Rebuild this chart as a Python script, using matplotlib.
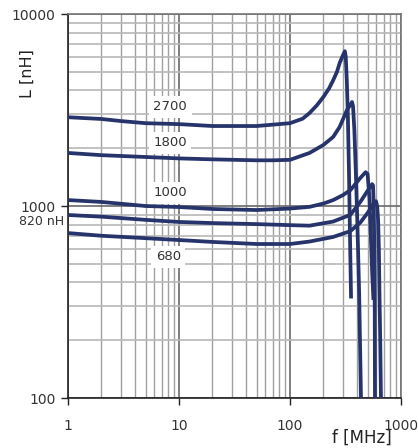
import matplotlib
matplotlib.use("Agg")
import matplotlib.pyplot as plt
from matplotlib.ticker import FixedLocator, NullFormatter, LogLocator

# curves: frequency [MHz], inductance [nH]
f_2700 = [1, 2, 3, 5, 10, 20, 50, 100, 130, 150, 175, 200, 225, 245, 265, 280, 300, 312,
          318, 325, 332, 340, 347, 355]
L_2700 = [2900, 2840, 2770, 2700, 2670, 2610, 2610, 2700, 2850, 3050, 3350, 3700, 4100, 4520, 5000, 5550, 6100, 6400,
          6000, 4500, 3000, 1500, 700, 330]

f_1800 = [1, 2, 5, 10, 20, 50, 70, 100, 150, 200, 245, 280, 325, 362, 370, 380, 392, 405, 420, 436]
L_1800 = [1890, 1840, 1800, 1770, 1750, 1730, 1730, 1740, 1890, 2080, 2290, 2580, 3150, 3480, 3300, 2500, 1500, 800, 350, 100]

f_1000 = [1, 2, 5, 10, 20, 50, 100, 150, 200, 245, 300, 350, 430, 480, 500, 520, 535, 550, 565]
L_1000 = [1074, 1050, 1000, 988, 965, 953, 970, 990, 1030, 1074, 1140, 1210, 1400, 1500, 1470, 1100, 700, 450, 324]

f_820 = [1, 2, 5, 10, 20, 50, 100, 150, 245, 350, 430, 500, 550, 560, 568, 575, 580, 583]
L_820 = [898, 880, 847, 826, 815, 805, 795, 790, 830, 900, 1050, 1200, 1300, 1280, 1000, 600, 300, 100]

f_680 = [1, 2, 5, 10, 20, 50, 100, 150, 245, 350, 430, 500, 560, 595, 610, 622, 632, 640, 650, 660]
L_680 = [723, 700, 680, 665, 650, 634, 634, 653, 690, 740, 820, 920, 1020, 1060, 1000, 850, 600, 350, 200, 100]

curve_labels = ["2700", "1800", "1000", "680"]
label_x = [8.3, 8.3, 8.3, 8.0]
label_y = [3280, 2130, 1170, 543]

x_ticks = [1, 10, 100, 1000]
y_ticks = [100, 1000, 10000]

navy = "#27336b"

fig = plt.figure(figsize=(4.18, 4.48), dpi=100)
ax = fig.add_axes([0.1627, 0.1116, 0.7966, 0.8571])
ax.set_xscale("log")
ax.set_yscale("log")
ax.set_xlim(1, 1000)
ax.set_ylim(100, 10000)

# grid
ax.xaxis.set_minor_locator(LogLocator(base=10, subs=range(2, 10)))
ax.yaxis.set_minor_locator(LogLocator(base=10, subs=range(2, 10)))
ax.xaxis.set_minor_formatter(NullFormatter())
ax.yaxis.set_minor_formatter(NullFormatter())
ax.grid(which="minor", axis="x", color="#a0a0a0", lw=1.0)
ax.grid(which="minor", axis="y", color="#b8b8b8", lw=1.2)
ax.grid(which="major", color="#6a6a6a", lw=1.2)
ax.set_axisbelow(True)

for f, L in [(f_2700, L_2700), (f_1800, L_1800), (f_1000, L_1000), (f_820, L_820), (f_680, L_680)]:
    ax.plot(f, L, color=navy, lw=2.7, solid_capstyle="butt", solid_joinstyle="round", zorder=3)

for t, x, y in zip(curve_labels, label_x, label_y):
    ax.text(x, y, t, fontsize=9.5, color="#333333", ha="center", va="center", zorder=2,
            bbox=dict(facecolor="white", edgecolor="none", boxstyle="square,pad=0.35"))

ax.xaxis.set_major_locator(FixedLocator(x_ticks))
ax.yaxis.set_major_locator(FixedLocator(y_ticks))
ax.set_xticklabels([str(v) for v in x_ticks])
ax.set_yticklabels([str(v) for v in y_ticks])
ax.tick_params(which="major", direction="out", length=5, width=1, color="#222222",
               labelsize=10, labelcolor="#333333", pad=10)
ax.tick_params(axis="y", which="major", pad=4)
ax.tick_params(which="minor", length=0)

ax.text(-0.012, 835, "820 nH", transform=ax.get_yaxis_transform(), ha="right", va="center",
        fontsize=9, color="#333333")

for s in ["left", "bottom"]:
    ax.spines[s].set_color("#222222")
    ax.spines[s].set_linewidth(1.2)
for s in ["top", "right"]:
    ax.spines[s].set_color("#777777")
    ax.spines[s].set_linewidth(1.2)

fig.text(0.065, 0.835, "L [nH]", rotation=90, ha="center", va="center", fontsize=11.5, color="#222222")
fig.text(0.866, 0.024, "f [MHz]", ha="center", va="center", fontsize=12, color="#222222")

fig.savefig("out.png", dpi=100)
